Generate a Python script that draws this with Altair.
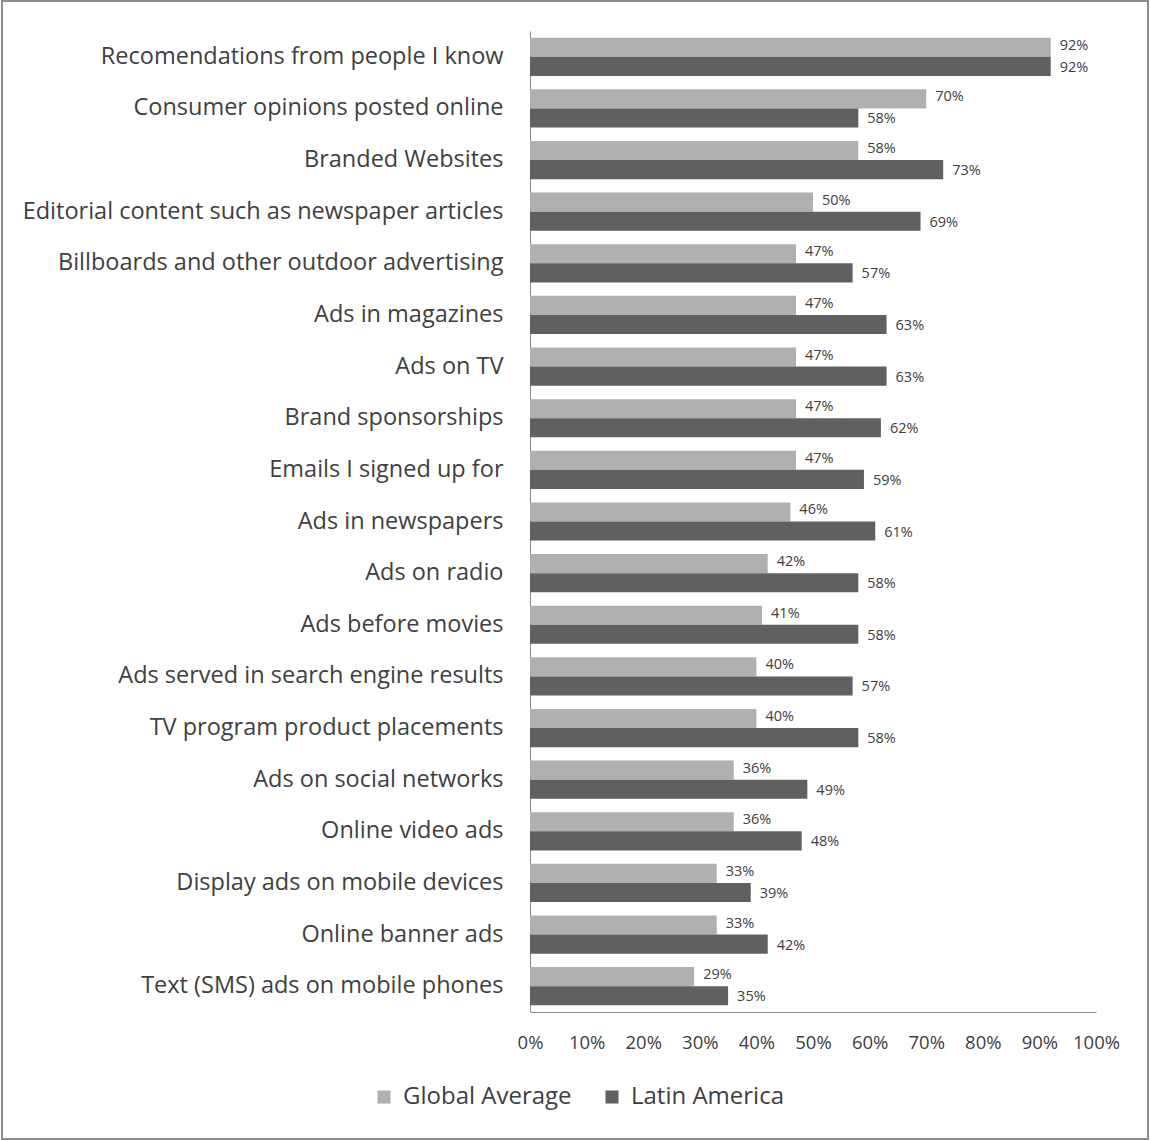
import altair as alt
import pandas as pd

categories = [
    "Recomendations from people I know",
    "Consumer opinions posted online",
    "Branded Websites",
    "Editorial content such as newspaper articles",
    "Billboards and other outdoor advertising",
    "Ads in magazines",
    "Ads on TV",
    "Brand sponsorships",
    "Emails I signed up for",
    "Ads in newspapers",
    "Ads on radio",
    "Ads before movies",
    "Ads served in search engine results",
    "TV program product placements",
    "Ads on social networks",
    "Online video ads",
    "Display ads on mobile devices",
    "Online banner ads",
    "Text (SMS) ads on mobile phones",
]
global_avg = [92, 70, 58, 50, 47, 47, 47, 47, 47, 46, 42, 41, 40, 40, 36, 36, 33, 33, 29]
latin_america = [92, 58, 73, 69, 57, 63, 63, 62, 59, 61, 58, 58, 57, 58, 49, 48, 39, 42, 35]
series = ["Global Average", "Latin America"]
colors = ["#b0b0b0", "#606060"]
tick_values = [0, 10, 20, 30, 40, 50, 60, 70, 80, 90, 100]

rows = []
for c, g, l in zip(categories, global_avg, latin_america):
    rows.append({"cat": c, "series": series[0], "value": g / 100})
    rows.append({"cat": c, "series": series[1], "value": l / 100})
df = pd.DataFrame(rows)

FONT = "Open Sans"
TXT = "#404040"

y_enc = alt.Y("cat:N", sort=categories,
              scale=alt.Scale(paddingInner=0.26, paddingOuter=0.13),
              axis=alt.Axis(title=None, ticks=False, labelFontSize=23.5, labelColor=TXT,
                            labelFont=FONT, labelPadding=27, domainColor="#8a8a8a",
                            labelLimit=600))
yoff = alt.YOffset("series:N", sort=series)

bars = alt.Chart(df).mark_bar().encode(
    x=alt.X("value:Q", scale=alt.Scale(domain=[0, 1]),
            axis=alt.Axis(title=None, format="%", values=[v / 100 for v in tick_values],
                          grid=False, ticks=False, labelFontSize=18.5, labelColor=TXT,
                          labelFont=FONT, labelPadding=21, domainColor="#8a8a8a",
                          labelOverlap=False, labelFlush=False)),
    y=y_enc,
    yOffset=yoff,
    color=alt.Color("series:N", sort=series,
                    scale=alt.Scale(domain=series, range=colors),
                    legend=alt.Legend(title=None, orient="none", direction="horizontal",
                                      legendX=-158, legendY=1054, symbolType="square",
                                      symbolSize=170, symbolStrokeWidth=0,
                                      labelFontSize=24, labelFont=FONT, labelColor=TXT,
                                      labelLimit=400, columnPadding=28, labelOffset=7)),
)

def value_labels(name, dy):
    return alt.Chart(df).transform_filter(
        alt.datum.series == name
    ).mark_text(align="left", baseline="middle", dx=9, dy=dy, fontSize=14.5,
                font=FONT, color=TXT).encode(
        x="value:Q",
        y=alt.Y("cat:N", sort=categories),
        yOffset=yoff,
        text=alt.Text("value:Q", format=".0%"),
    )

labels_g = value_labels(series[0], -1.5)
labels_l = value_labels(series[1], 1.5)

border = alt.Chart(alt.Data(values=[{}])).mark_rect(
    filled=False, stroke="#8c8c8c", strokeWidth=2
).encode(
    x=alt.value(-528), x2=alt.value(618), y=alt.value(-30), y2=alt.value(1108)
)

chart = alt.layer(bars, labels_g, labels_l, border).properties(
    width=566, height=981,
    padding={"left": 530, "top": 31, "right": 54, "bottom": 128},
    autosize=alt.AutoSizeParams(type="none"),
    background="white",
).configure_view(stroke=None)

chart.save("out.html", embed_options={"renderer": "svg", "actions": False})
